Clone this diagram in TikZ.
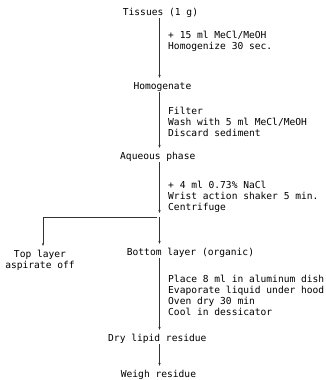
\documentclass[tikz,border=0pt]{standalone}
\usepackage{fontspec}
\setmonofont{DejaVu Sans Mono}
\usetikzlibrary{arrows.meta}

\begin{document}
\begin{tikzpicture}[x=1pt, y=-1pt,
    every node/.style = {font=\ttfamily\fontsize{9.6}{11}\selectfont, inner sep=0pt, text=black},
    stage/.style = {text height=7.5pt, text depth=2.5pt, anchor=base west},
    note/.style = {align=left, anchor=base west},
    flow/.style = {draw=black!80, line width=0.6pt, -{Stealth[length=3pt,width=2.4pt]}, shorten >=4pt}]
        \useasboundingbox (0,0) rectangle (325,380);
        \coordinate (spine) at (159.5,0);

        % main column (anchored at the baseline)
        \node (Tissues) [stage] at (122.7,15.5) {Tissues (1 g)};
        \node (Homogenate) [stage] at (133.3,89.5) {Homogenate};
        \node (Aqueous) [stage] at (120,159.5) {Aqueous phase};
        \node (Bottom) [stage] at (126.7,255.5) {Bottom layer (organic)};
        \node (TopLayer) [align=center, anchor=base] at (40,268.5) {Top layer\\aspirate off};
        \node (DryLipid) [stage] at (108,341.5) {Dry lipid residue};
        \node (Weigh) [stage] at (120.7,377.5) {Weigh residue};

        % steps beside the arrows (base = last line)
        \node (Homogenize) [note] at (168,49.5) {+ 15 ml MeCl/MeOH\\Homogenize 30 sec.};
        \node (Filter) [note] at (168,136.5) {Filter\\Wash with 5 ml MeCl/MeOH\\Discard sediment};
        \node (Shake) [note] at (168,210.5) {+ 4 ml 0.73\% NaCl\\Wrist action shaker 5 min.\\Centrifuge};
        \node (Evaporate) [note] at (168,315.5) {Place 8 ml in aluminum dish\\Evaporate liquid under hood\\Oven dry 30 min\\Cool in dessicator};

        \coordinate (split) at (159.5,217);
        \coordinate (lbranch) at (43,217);

        \draw[flow] (Tissues.south -| spine) -- (Homogenate.north -| spine);
        \draw[flow] (Homogenate.south -| spine) -- (Aqueous.north -| spine);
        \draw[flow] (Aqueous.south -| spine) -- (split);
        \draw[flow] (split) -- (Bottom.north -| spine);
        \draw[flow, shorten <=3pt] (split) -- (lbranch) -- (lbranch |- TopLayer.north);
        \draw[flow] (Bottom.south -| spine) -- (DryLipid.north -| spine);
        \draw[flow] (DryLipid.south -| spine) -- (Weigh.north -| spine);
    \end{tikzpicture}
\end{document}
